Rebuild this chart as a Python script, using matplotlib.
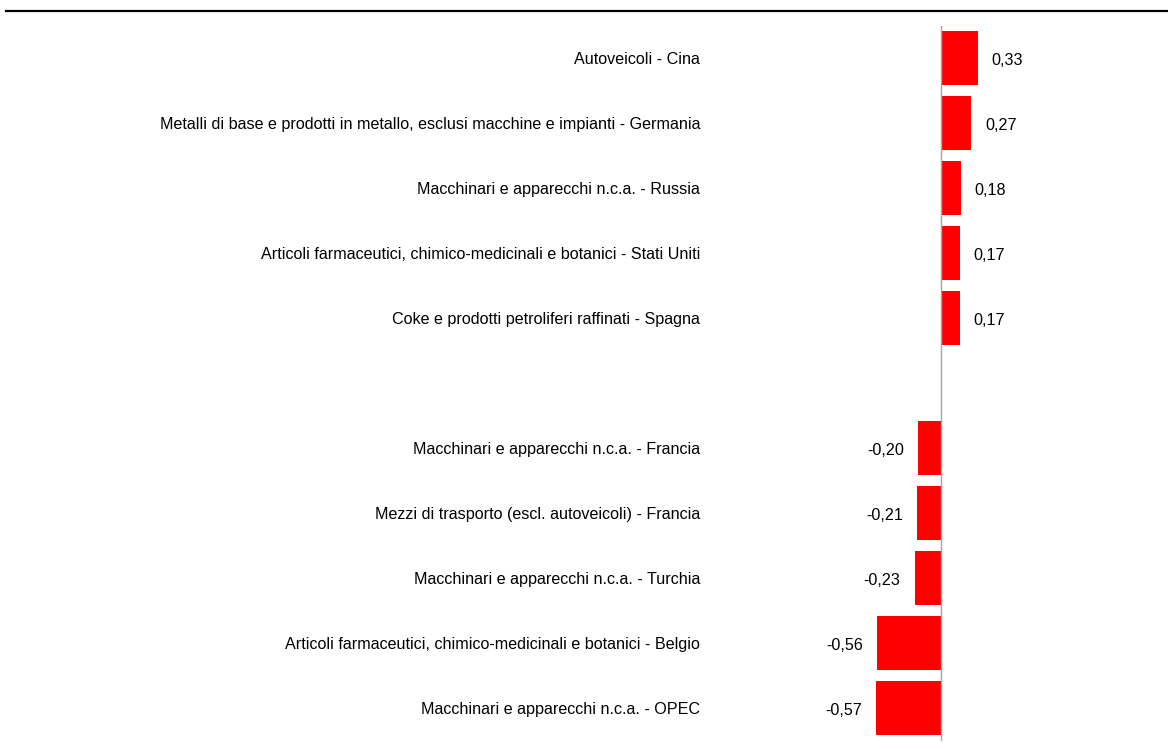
import matplotlib
matplotlib.use('Agg')
import matplotlib.pyplot as plt
from matplotlib.lines import Line2D
from matplotlib import font_manager

# chart data (top to bottom, '' = empty spacer row)
labels = [
    'Autoveicoli - Cina',
    'Metalli di base e prodotti in metallo, esclusi macchine e impianti - Germania',
    'Macchinari e apparecchi n.c.a. - Russia',
    'Articoli farmaceutici, chimico-medicinali e botanici - Stati Uniti',
    'Coke e prodotti petroliferi raffinati - Spagna',
    '',
    'Macchinari e apparecchi n.c.a. - Francia',
    'Mezzi di trasporto (escl. autoveicoli) - Francia',
    'Macchinari e apparecchi n.c.a. - Turchia',
    'Articoli farmaceutici, chimico-medicinali e botanici - Belgio',
    'Macchinari e apparecchi n.c.a. - OPEC',
]
values = [0.33, 0.27, 0.18, 0.17, 0.17, None, -0.20, -0.21, -0.23, -0.56, -0.57]

# pick a narrow font if there is one
names = {f.name for f in font_manager.fontManager.ttflist}
family = 'Liberation Sans Narrow' if 'Liberation Sans Narrow' in names else 'Liberation Sans'
plt.rcParams['font.family'] = [family, 'DejaVu Sans']
fs = 13.5 if family.endswith('Narrow') else 11.6

W, H = 1168, 749
fig = plt.figure(figsize=(W / 100, H / 100), dpi=100)

# axes placed so that zero sits at x=940 px, rows 65 px apart
scale = 113.0  # px per unit
left_px, right_px, zero_px = 800, 1100, 940.5
ax = fig.add_axes([left_px / W, 8.5 / H, (right_px - left_px) / W, 715 / H])
ax.set_xlim(-(zero_px - left_px) / scale, (right_px - zero_px) / scale)
ax.set_ylim(len(labels) - 0.5, -0.5)

ypos = list(range(len(labels)))
for y, v in zip(ypos, values):
    if v is None:
        continue
    ax.barh(y, v, height=0.846, color='#ff0000', edgecolor='none')
    txt = ('%.2f' % v).replace('.', ',')
    off = 14 if v > 0 else -14
    ax.annotate(txt, (v, y), xytext=(off * 0.72, -1.5), textcoords='offset points',
                ha='left' if v > 0 else 'right', va='center', fontsize=fs)

ax.axvline(0, color='#a6a6a6', lw=1)
ax.set_yticks(ypos)
ax.set_yticklabels(labels, fontsize=fs)
# labels end at x=700 px, i.e. 100 px left of the axes
ax.tick_params(axis='y', length=0, pad=(left_px - 700) * 0.72)
ax.set_xticks([])
for s in ax.spines.values():
    s.set_visible(False)

# black rule across the top
fig.add_artist(Line2D([6 / W, 1.0], [1 - 11 / H, 1 - 11 / H], color='black', lw=1.6))

fig.savefig('out.png', dpi=100)
